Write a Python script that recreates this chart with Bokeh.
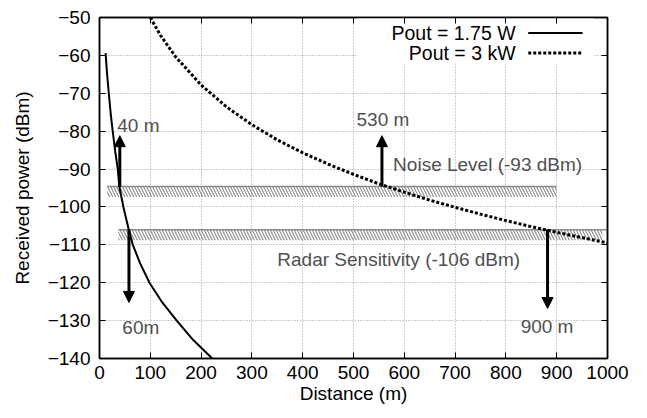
from bokeh.plotting import figure
from bokeh.models import (Range1d, LinearAxis, FixedTicker, Arrow, NormalHead,
                          BoxAnnotation, ColumnDataSource)
from bokeh.embed import file_html
from bokeh.resources import INLINE
from bokeh.core.properties import value

FONT = "Liberation Sans"

# ---- data ----
dist_low = [12, 15, 18.3, 22, 26, 31, 36, 39, 47, 57.7, 65.6, 80, 98.4, 122, 152, 185, 222]
pow_low = [-59.4, -65, -70, -75.3, -80, -85.4, -90, -94.6, -100, -106, -110, -114.9,
           -120, -124.9, -130, -135.2, -140]

dist_high = [100, 120, 150, 200, 250, 300, 350, 400, 450, 500, 550, 600, 650, 700,
             750, 800, 850, 900, 950, 1000]
pow_high = [-50, -54.7, -60.4, -67.8, -73.6, -78.3, -82.3, -85.7, -88.7, -91.4, -93.9,
            -96.1, -98.2, -100.1, -101.9, -103.6, -105.2, -106.7, -108.1, -109.5]

series_names = ["Pout = 1.75 W", "Pout = 3 kW"]

band_labels = ["Noise Level (-93 dBm)", "Radar Sensitivity (-106 dBm)"]
band_top = [-94.6, -106.0]
band_bottom = [-97.4, -108.8]
band_x0 = [15, 37]
band_x1 = [900, 990]
band_line_x1 = [900, 1010]
band_label_x = [578, 350]
band_label_y = [-88.9, -114.0]

arrow_x = [40, 58, 556, 882]
arrow_y0 = [-94.6, -106.0, -94.6, -106.0]
arrow_y1 = [-81.2, -125.2, -81.2, -126.8]
arrow_text = ["40 m", "60m", "530 m", "900 m"]
arrow_text_x = [35, 45, 506, 829]
arrow_text_y = [-78.5, -131.8, -77.0, -131.6]

x_ticks = [0, 100, 200, 300, 400, 500, 600, 700, 800, 900, 1000]
y_ticks = [-140, -130, -120, -110, -100, -90, -80, -70, -60, -50]

# legend placement (data coords)
legend_text_x = 819
legend_y = [-54.1, -59.4]
legend_line_x = [844, 951]

p = figure(width=647, height=418, output_backend="svg", toolbar_location=None,
           x_range=Range1d(0, 1000), y_range=Range1d(-140, -50),
           min_border_left=99, min_border_right=40, min_border_top=17,
           min_border_bottom=60)
p.background_fill_color = "white"
p.border_fill_color = "white"
p.outline_line_color = "black"
p.outline_line_width = 1.5

bottom_ax = p.below[0]
left_ax = p.left[0]

# grid
for g in (p.xgrid, p.ygrid):
    g.grid_line_color = "#9a9a9a"
    g.grid_line_dash = "1 2"
    g.grid_line_width = 1
p.xgrid.ticker = FixedTicker(ticks=x_ticks)
p.ygrid.ticker = FixedTicker(ticks=y_ticks)

# axes
bottom_ax.ticker = FixedTicker(ticks=x_ticks)
left_ax.ticker = FixedTicker(ticks=y_ticks)
bottom_ax.axis_label = "Distance (m)"
left_ax.axis_label = "Received power (dBm)"
top_ax = LinearAxis(ticker=FixedTicker(ticks=x_ticks))
right_ax = LinearAxis(ticker=FixedTicker(ticks=y_ticks))
p.add_layout(top_ax, "above")
p.add_layout(right_ax, "right")
for ax in (bottom_ax, left_ax, top_ax, right_ax):
    ax.major_tick_in = 6
    ax.major_tick_out = 0
    ax.minor_tick_line_color = None
    ax.major_tick_line_color = "black"
    ax.major_tick_line_width = 1
    ax.axis_line_color = "black"
    ax.axis_line_width = 1.5
    ax.major_label_text_font = FONT
    ax.major_label_text_font_size = "19px"
    ax.major_label_text_color = "black"
    ax.axis_label_text_font = FONT
    ax.axis_label_text_font_size = "19px"
    ax.axis_label_text_font_style = "normal"
    ax.axis_label_text_color = "black"
for ax in (top_ax, right_ax):
    ax.major_label_text_font_size = "0px"
    ax.major_label_text_alpha = 0
    ax.major_label_standoff = 0
bottom_ax.major_label_standoff = 7
bottom_ax.axis_label_standoff = 1
left_ax.major_label_standoff = 9
left_ax.axis_label_standoff = 12

# opaque legend area (hides grid)
p.add_layout(BoxAnnotation(left=508, right=974, top=-50, bottom=-62.2,
                           fill_color="white", fill_alpha=1.0, line_color=None,
                           level="underlay"))

# hatched bands
bands = ColumnDataSource(dict(left=band_x0, right=band_x1, top=band_top, bottom=band_bottom))
p.quad(left="left", right="right", top="top", bottom="bottom", source=bands,
       fill_color=None, line_color=None, hatch_pattern="\\", hatch_color="#8a8a8a",
       hatch_scale=6, hatch_weight=1.1)
p.segment(x0=band_x0, x1=band_line_x1, y0=band_top, y1=band_top,
          line_color="#8a8a8a", line_width=1.5)

# curves
p.line(dist_low, pow_low, line_color="black", line_width=2)
p.line(dist_high, pow_high, line_color="black", line_width=3, line_dash="3 2")

# arrows
for xa, y0, y1 in zip(arrow_x, arrow_y0, arrow_y1):
    p.add_layout(Arrow(end=NormalHead(size=11, fill_color="black", line_color="black"),
                       x_start=xa, y_start=y0, x_end=xa, y_end=y1,
                       line_color="black", line_width=3))

# annotation texts
ann = ColumnDataSource(dict(x=arrow_text_x + band_label_x,
                            y=arrow_text_y + band_label_y,
                            t=arrow_text + band_labels))
p.text(x="x", y="y", text="t", source=ann, text_font=value(FONT),
       text_font_size="19px", text_color="#505050", text_baseline="middle",
       text_align="left")

# legend (text left of sample, as in gnuplot)
leg = ColumnDataSource(dict(x=[legend_text_x] * 2, y=legend_y, t=series_names))
p.text(x="x", y="y", text="t", source=leg, text_font=value(FONT),
       text_font_size="19.5px", text_color="black", text_baseline="middle",
       text_align="right")
p.line(legend_line_x, [legend_y[0]] * 2, line_color="black", line_width=2)
p.line(legend_line_x, [legend_y[1]] * 2, line_color="black", line_width=3, line_dash="3 2")

open("out.html", "w").write(file_html(p, INLINE))
